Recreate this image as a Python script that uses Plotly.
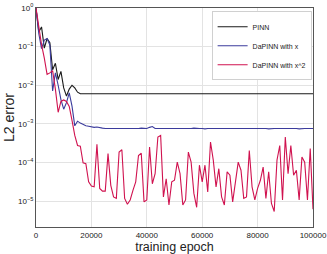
import numpy as np
import plotly.graph_objects as go

epochs = list(range(0, 101000, 1000))

pinn_log = [0, -0.62, -0.49, -1.04, -0.79, -0.9, -1.6, -1.43, -1.85, -1.64,
            -2.07, -2.28, -2.1, -2.0, -2.07, -2.18, -2.22, -2.22, -2.22, -2.22,
            -2.22, -2.22, -2.22, -2.22, -2.22, -2.22, -2.22, -2.22, -2.22, -2.22,
            -2.22, -2.22, -2.22, -2.22, -2.22, -2.22, -2.22, -2.22, -2.22, -2.22,
            -2.22, -2.22, -2.22, -2.22, -2.22, -2.22, -2.22, -2.22, -2.22, -2.22,
            -2.22, -2.22, -2.22, -2.22, -2.22, -2.22, -2.22, -2.22, -2.22, -2.22,
            -2.22, -2.22, -2.22, -2.22, -2.22, -2.22, -2.22, -2.22, -2.22, -2.22,
            -2.22, -2.22, -2.22, -2.22, -2.22, -2.22, -2.22, -2.22, -2.22, -2.22,
            -2.22, -2.22, -2.22, -2.22, -2.22, -2.22, -2.22, -2.22, -2.22, -2.22,
            -2.22, -2.22, -2.22, -2.22, -2.22, -2.22, -2.22, -2.22, -2.22, -2.22,
            -2.22]

dapinn_x_log = [0, -0.66, -1.05, -0.83, -0.79, -0.96, -2.15, -1.68, -2.0, -2.37,
                -2.62, -2.45, -2.2, -2.54, -3.05, -2.93, -2.98, -3.02, -3.05, -3.06,
                -3.07, -3.09, -3.08, -3.1, -3.11, -3.12, -3.12, -3.12, -3.13, -3.12,
                -3.12, -3.13, -3.12, -3.12, -3.13, -3.12, -3.12, -3.12, -3.11, -3.12,
                -3.12, -3.09, -3.07, -3.12, -3.12, -3.13, -3.12, -3.12, -3.12, -3.13,
                -3.12, -3.12, -3.12, -3.12, -3.13, -3.12, -3.12, -3.11, -3.12, -3.12,
                -3.12, -3.13, -3.12, -3.12, -3.12, -3.11, -3.12, -3.12, -3.12, -3.12,
                -3.12, -3.12, -3.12, -3.11, -3.12, -3.12, -3.12, -3.12, -3.12, -3.12,
                -3.12, -3.11, -3.12, -3.12, -3.13, -3.12, -3.12, -3.12, -3.12, -3.11,
                -3.12, -3.12, -3.12, -3.12, -3.12, -3.13, -3.12, -3.12, -3.12, -3.12,
                -3.12]

dapinn_x2_log = [0, -0.55, -0.95, -1.3, -1.72, -1.68, -1.62, -2.1, -2.7, -2.42,
                 -2.38, -2.42, -2.55, -2.91, -3.30, -3.56, -3.58, -4.01, -4.03, -4.50,
                 -4.61, -4.63, -3.53, -4.67, -4.74, -4.74, -3.77, -4.59, -4.89, -4.93,
                 -3.73, -3.67, -4.93, -5.08, -4.97, -4.72, -4.50, -3.82, -3.76, -5.02,
                 -4.97, -3.60, -4.55, -4.29, -3.34, -3.30, -4.89, -4.42, -5.10, -4.50,
                 -4.46, -3.99, -4.29, -5.10, -4.97, -3.73, -3.99, -4.80, -5.16, -4.07,
                 -4.50, -4.07, -4.76, -3.47, -3.94, -4.63, -4.16, -4.89, -5.10, -4.24,
                 -4.33, -5.02, -4.50, -3.99, -4.20, -4.93, -4.89, -3.69, -4.63, -4.97,
                 -4.67, -4.46, -4.12, -4.93, -4.24, -5.06, -5.27, -3.94, -3.56, -4.97,
                 -3.34, -4.29, -3.56, -4.33, -4.20, -4.97, -3.86, -3.99, -4.97, -3.64,
                 -5.21]

x_ticks = [0, 20000, 40000, 60000, 80000, 100000]
y_tickvals = [1, 1e-1, 1e-2, 1e-3, 1e-4, 1e-5]
y_ticktext = ["10<sup>0</sup>", "10<sup>−1</sup>", "10<sup>−2</sup>",
              "10<sup>−3</sup>", "10<sup>−4</sup>", "10<sup>−5</sup>"]

series = [
    ("PINN", pinn_log, "#1a1a1a"),
    ("DaPINN with x", dapinn_x_log, "#3b3b9c"),
    ("DaPINN with x^2", dapinn_x2_log, "#d0124f"),
]

fig = go.Figure()
for name, vals, color in series:
    fig.add_trace(go.Scatter(
        x=epochs, y=[10 ** v for v in vals], mode="lines", name=name,
        line=dict(color=color, width=1.1),
    ))

axis_common = dict(
    showline=True, linecolor="#555555", linewidth=1, mirror=True,
    showgrid=True, gridcolor="#e3e3e3", gridwidth=1,
    ticks="", zeroline=False, automargin=False,
    tickfont=dict(family="Liberation Sans, Arial, sans-serif", size=8, color="#222"),
)

fig.update_layout(
    width=327, height=254,
    margin=dict(l=36, r=14, t=8, b=27),
    paper_bgcolor="white", plot_bgcolor="white",
    font=dict(family="Liberation Sans, Arial, sans-serif", color="#222"),
    legend=dict(
        x=0.995, y=0.985, xanchor="right", yanchor="top",
        bgcolor="white", bordercolor="#d0d0d0", borderwidth=1,
        font=dict(size=7, color="#222"),
        itemwidth=30, tracegroupgap=0,
    ),
    xaxis=dict(
        range=[0, 100000], tickvals=x_ticks, ticktext=[str(t) for t in x_ticks],
        title=dict(text="training epoch", font=dict(size=12.5), standoff=1),
        **axis_common,
    ),
    yaxis=dict(
        type="log", range=[-5.67, 0], tickvals=y_tickvals, ticktext=y_ticktext,
        title=dict(text="L2 error", font=dict(size=14), standoff=0),
        **axis_common,
    ),
)

fig.write_html("out.html", config={"displayModeBar": False},
               post_script="document.body.style.margin='0';")
